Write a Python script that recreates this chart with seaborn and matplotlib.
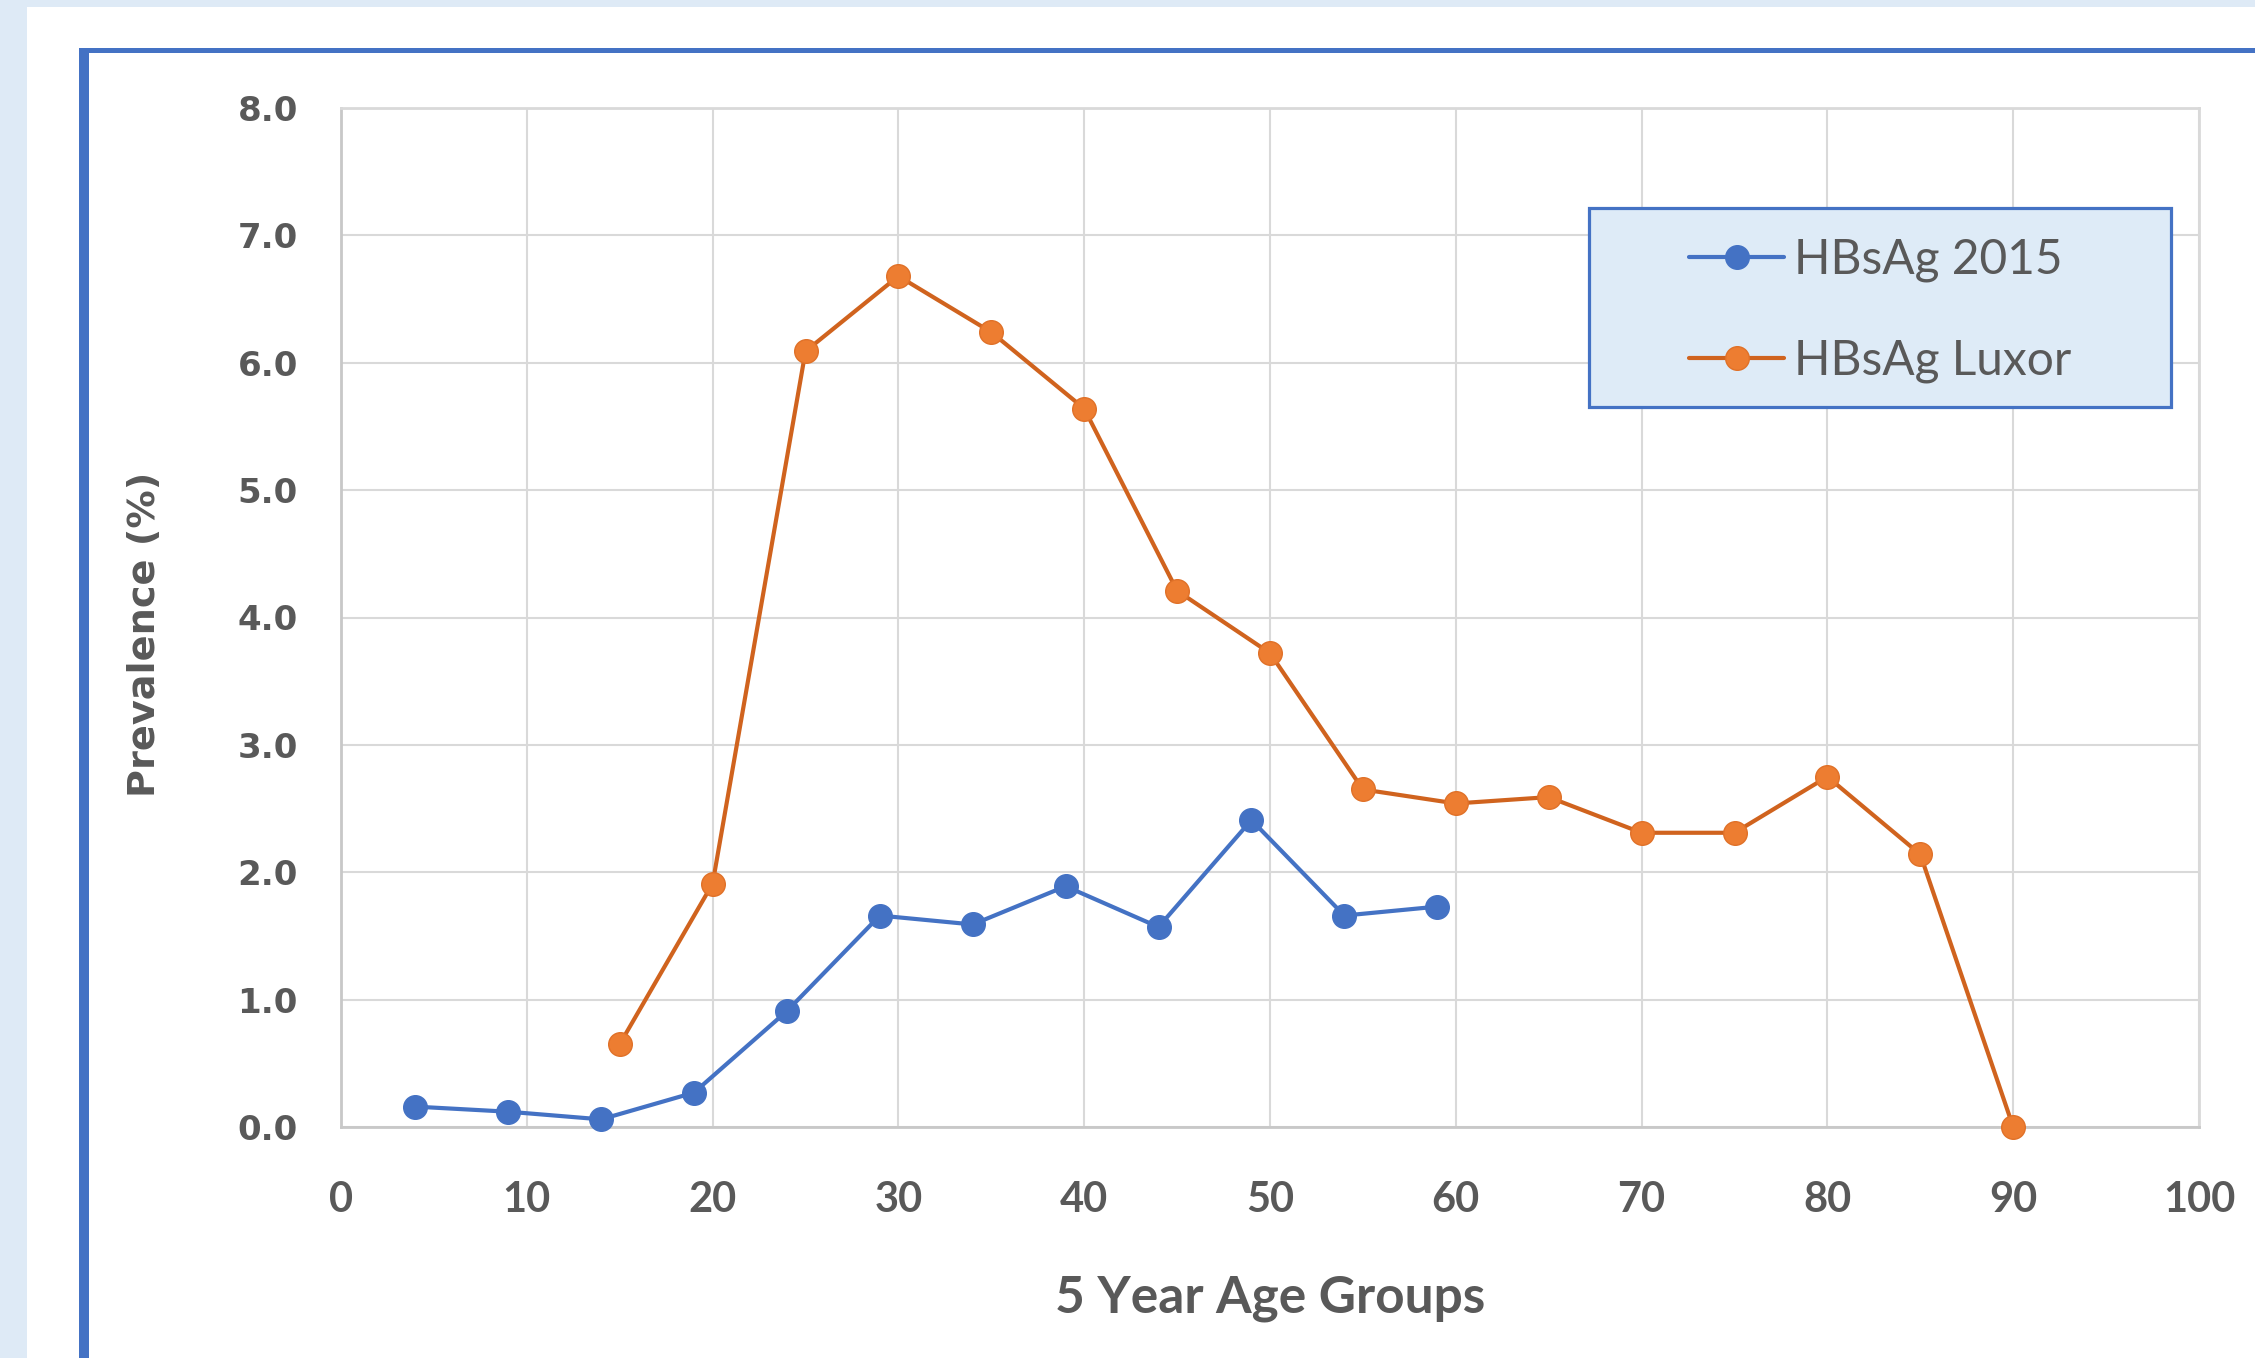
import matplotlib
matplotlib.use("Agg")
import matplotlib.pyplot as plt
from matplotlib.patches import Rectangle
from matplotlib.lines import Line2D
import seaborn as sns
import pandas as pd

# Age-group midpoints (years) and HBsAg prevalence (%)
age_2015 = [4, 9, 14, 19, 24, 29, 34, 39, 44, 49, 54, 59]
prev_2015 = [0.16, 0.12, 0.06, 0.27, 0.91, 1.66, 1.59, 1.89, 1.57, 2.41, 1.66, 1.73]

age_luxor = [15, 20, 25, 30, 35, 40, 45, 50, 55, 60, 65, 70, 75, 80, 85, 90]
prev_luxor = [0.65, 1.91, 6.09, 6.68, 6.24, 5.64, 4.21, 3.72, 2.65, 2.54, 2.59,
              2.31, 2.31, 2.75, 2.14, 0.0]

series_names = ["HBsAg 2015", "HBsAg Luxor"]
x_ticks = [0, 10, 20, 30, 40, 50, 60, 70, 80, 90, 100]
y_ticks = [0, 1, 2, 3, 4, 5, 6, 7, 8]
x_title = "5 Year Age Groups"
y_title = "Prevalence (%)"

df_2015 = pd.DataFrame({"age": age_2015, "prev": prev_2015})
df_luxor = pd.DataFrame({"age": age_luxor, "prev": prev_luxor})

sns.set_theme(style="white")
plt.rcParams["font.family"] = ["DejaVu Sans"]

W, H = 2255, 1358
fig = plt.figure(figsize=(W / 100, H / 100), dpi=100)
fig.patch.set_facecolor("#DEEAF6")

# White slide panel and the blue frame around the chart
fig.add_artist(Rectangle((27 / W, -0.1), 1.2, 1.1 - 7 / H, transform=fig.transFigure,
                         facecolor="white", edgecolor="none", zorder=-10))
fig.add_artist(Line2D([84 / W, 1.05], [1 - 50 / H, 1 - 50 / H], transform=fig.transFigure,
                      color="#4472C4", linewidth=3.6, zorder=-9, solid_capstyle="butt"))
fig.add_artist(Line2D([84 / W, 84 / W], [-0.05, 1 - 48 / H], transform=fig.transFigure,
                      color="#4472C4", linewidth=7.2, zorder=-9, solid_capstyle="butt"))

ax = fig.add_axes([341 / W, (H - 1127) / H, (2199 - 341) / W, (1127 - 108) / H])
ax.set_facecolor("white")

blue = "#4472C4"
orange_line = "#D0631E"
orange_mark = "#ED7D31"

sns.lineplot(data=df_2015, x="age", y="prev", ax=ax, color=blue, linewidth=3.0,
             marker="o", markersize=17, markerfacecolor=blue, markeredgecolor=blue,
             markeredgewidth=1, label=series_names[0], clip_on=False, zorder=5)
sns.lineplot(data=df_luxor, x="age", y="prev", ax=ax, color=orange_line, linewidth=3.0,
             marker="o", markersize=17, markerfacecolor=orange_mark,
             markeredgecolor="#E07128", markeredgewidth=1, label=series_names[1],
             clip_on=False, zorder=5)

ax.set_xlim(0, 100)
ax.set_ylim(0, 8)
ax.set_xticks(x_ticks)
ax.set_xticklabels([str(v) for v in x_ticks], fontfamily="Lato", fontweight="bold",
                   fontsize=30, color="#595959")
ax.set_yticks(y_ticks)
ax.set_yticklabels([f"{v:.1f}" for v in y_ticks], fontfamily="DejaVu Sans",
                   fontweight="bold", fontsize=24.5, color="#595959")
ax.tick_params(axis="x", length=0, pad=39)
ax.tick_params(axis="y", length=0, pad=31)

ax.grid(True, color="#D9D9D9", linewidth=1.5)
ax.set_axisbelow(True)
for side in ["top", "right"]:
    ax.spines[side].set_color("#D9D9D9")
    ax.spines[side].set_linewidth(2)
for side in ["left", "bottom"]:
    ax.spines[side].set_color("#C8C8C8")
    ax.spines[side].set_linewidth(2)

ax.set_xlabel(x_title, fontfamily="Lato", fontweight="bold", fontsize=37, color="#595959")
ax.set_ylabel(y_title, fontfamily="DejaVu Sans", fontweight="bold", fontsize=27.5,
              color="#595959")
ax.xaxis.set_label_coords(0.5, (1127 - 1298) / 1019)
ax.xaxis.label.set_va("center")
ax.yaxis.set_label_coords((145 - 341) / 1858, (1127 - 634) / 1019)
ax.yaxis.label.set_va("center")
ax.yaxis.label.set_ha("center")

# Legend panel: light-blue box with blue outline, entries centred inside
box_x, box_y, box_w, box_h = 0.6717, 0.7066, 0.3132, 0.1952
ax.add_patch(Rectangle((box_x, box_y), box_w, box_h, transform=ax.transAxes,
                       facecolor="#DEEBF7", edgecolor=blue, linewidth=2.3,
                       zorder=6, clip_on=False))
leg = ax.legend(loc="center", bbox_to_anchor=(box_x + box_w / 2, box_y + box_h / 2 - 0.003),
                frameon=False, handlelength=2.0, handletextpad=0.2, borderpad=0,
                labelspacing=1.18, prop={"family": "Lato", "size": 34.5})
leg.set_zorder(7)
for txt in leg.get_texts():
    txt.set_color("#595959")

fig.savefig("out.png", dpi=100, facecolor=fig.get_facecolor())
